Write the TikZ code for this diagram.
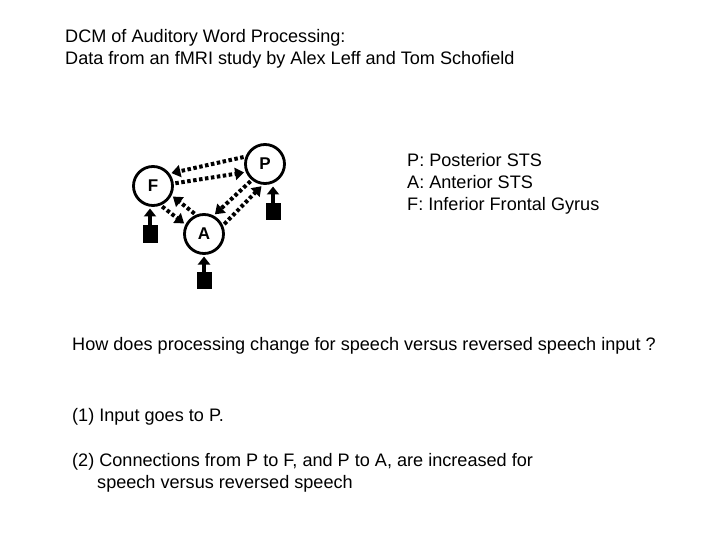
\documentclass[tikz,border=0pt]{standalone}
\usepackage{fontspec}
\setmainfont{Liberation Sans}
\usetikzlibrary{arrows.meta}
\begin{document}
\begin{tikzpicture}[x=1pt,y=-1pt,
  region/.style={draw,circle,line width=2.8pt,minimum size=39pt,inner sep=0pt,outer sep=3pt,font=\fontsize{17}{20}\selectfont\bfseries},
  conn/.style={line width=4pt,dash pattern=on 3.5pt off 2.5pt,-{Triangle[length=9pt,width=12pt]}},
  inbox/.style={fill=black,minimum width=15pt,minimum height=17pt,inner sep=0pt,outer sep=0pt},
  inarrow/.style={line width=3.2pt,-{Triangle[length=8pt,width=12pt]}},
  txt/.style={anchor=base west,inner sep=0pt,font=\fontsize{18.1}{21}\selectfont}]
\useasboundingbox (0,0) rectangle (720,540);
% title
\node[txt] (t1) at (65,43) {DCM of Auditory Word Processing:};
\node[txt] (t2) at (65,65) {Data from an fMRI study by Alex Leff and Tom Schofield};
% regions
\node[region] (P) at (265,164) {P};
\node[region] (F) at (153,186) {F};
\node[region] (A) at (204,234) {A};
% connections
\draw[conn] (P.162) -- (F.35);
\draw[conn] (F.7) -- (P.202);
\draw[conn] (P.230) -- (A.61);
\draw[conn] (A.26) -- (P.261);
\draw[conn] (A.115) -- (F.332);
\draw[conn] (F.294) -- (A.152);
% inputs
\node[inbox] (Fi) at (150,234) {};
\node[inbox] (Ai) at (204,280) {};
\node[inbox] (Pi) at (273,212) {};
\draw[inarrow] (Fi.north) -- (Fi.north |- F.south);
\draw[inarrow] (Ai.north) -- (Ai.north |- A.south);
\draw[inarrow] (Pi.north) -- (Pi.north |- P.south);
% legend
\node[txt] (l1) at (407,167) {P: Posterior STS};
\node[txt] (l2) at (407,189) {A: Anterior STS};
\node[txt] (l3) at (407,211) {F: Inferior Frontal Gyrus};
% questions
\node[txt] (q) at (72,350) {How does processing change for speech versus reversed speech input ?};
\node[txt] (a1) at (72,421) {(1) Input goes to P.};
\node[txt] (a2) at (72,466) {(2) Connections from P to F, and P to A, are increased for};
\node[txt] (a3) at (97,488) {speech versus reversed speech};
\end{tikzpicture}
\end{document}
